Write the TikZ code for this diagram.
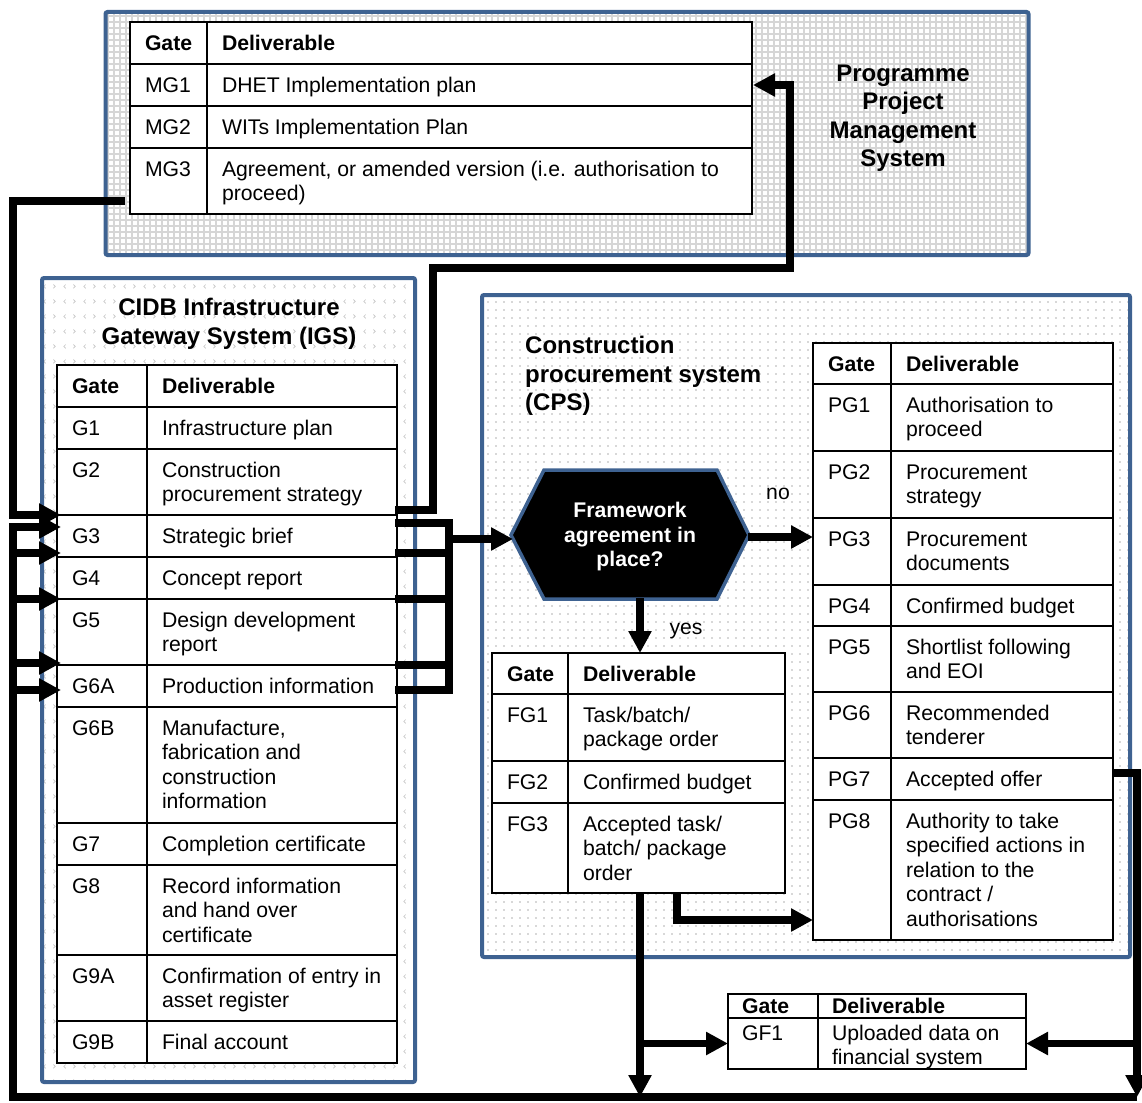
\documentclass[tikz,border=0pt]{standalone}
\usepackage{fontspec}
\setmainfont{Liberation Sans}
\usetikzlibrary{arrows.meta,patterns,calc}

\definecolor{sysblue}{RGB}{62,98,145}

% background textures of the three system panels
\pgfdeclarepatternformonly{pmgrid}{\pgfpoint{-1pt}{-1pt}}{\pgfpoint{7pt}{7pt}}{\pgfpoint{6pt}{6pt}}{%
  \pgfsetlinewidth{1.4pt}%
  \pgfpathmoveto{\pgfpoint{0pt}{-1pt}}\pgfpathlineto{\pgfpoint{0pt}{7pt}}%
  \pgfpathmoveto{\pgfpoint{-1pt}{0pt}}\pgfpathlineto{\pgfpoint{7pt}{0pt}}%
  \pgfusepath{stroke}}
\pgfdeclarepatternformonly{igschev}{\pgfpoint{0pt}{0pt}}{\pgfpoint{20pt}{15pt}}{\pgfpoint{20pt}{15pt}}{%
  \pgfsetlinewidth{0.7pt}%
  \pgfpathmoveto{\pgfpoint{6pt}{5pt}}\pgfpathlineto{\pgfpoint{4pt}{7pt}}\pgfpathlineto{\pgfpoint{6pt}{9pt}}%
  \pgfpathmoveto{\pgfpoint{14pt}{5pt}}\pgfpathlineto{\pgfpoint{16pt}{7pt}}\pgfpathlineto{\pgfpoint{14pt}{9pt}}%
  \pgfusepath{stroke}}
\pgfdeclarepatternformonly{cpsdots}{\pgfpoint{-1pt}{-1pt}}{\pgfpoint{1pt}{1pt}}{\pgfpoint{8pt}{8pt}}{%
  \pgfpathcircle{\pgfpointorigin}{0.8pt}\pgfusepath{fill}}

\newcommand\cellfont{\fontsize{21.2}{24.5}\selectfont}
\newlength\cellpad
\setlength\cellpad{15pt}
% table cell body: width, height, top padding, text
\newcommand\cbox[4]{\vbox to #2pt{\hsize=#1pt\relax\leftskip=\cellpad\rightskip=-30pt plus 1fil\relax
  \parindent=0pt\parskip=0pt\parfillskip=0pt plus 1fil\relax\hyphenpenalty=10000\relax
  \vskip#3pt\relax\noindent\strut#4\strut\par\vfil}}
% one table row: name, x, y, gate width, deliverable width, height, top padding, gate, deliverable
\newcommand\trow[9]{%
  \node[cell] (#1g) at (#2,#3) {\cbox{#4}{#6}{#7}{#8}};
  \node[cell] (#1d) at (#2+#4,#3) {\cbox{#5}{#6}{#7}{#9}};}

\begin{document}
\begin{tikzpicture}[x=1pt,y=-1pt,
  cell/.style={draw, line width=1.8pt, fill=white, inner sep=0pt, outer sep=0pt,
    anchor=north west, font=\cellfont},
  sysbox/.style={draw=sysblue, line width=4pt, rounded corners=2pt, anchor=north west,
    inner sep=0pt, outer sep=0pt},
  title/.style={font=\bfseries\fontsize{24}{28.5}\selectfont, inner sep=0pt},
  lbl/.style={font=\cellfont, inner sep=0pt},
  flow/.style={line width=7.5pt, -{Triangle[length=22pt,width=22pt]}},
  link/.style={line width=7.5pt}]
\useasboundingbox (0,0) rectangle (1142,1102);

% system panels
\node[sysbox, minimum width=923pt, minimum height=243pt, preaction={fill=white},
  pattern=pmgrid, pattern color=gray!32] (ppms) at (105.5,12) {};
\node[sysbox, minimum width=373pt, minimum height=804pt, preaction={fill=white},
  pattern=igschev, pattern color=gray!45] (igs) at (42,278) {};
\node[sysbox, minimum width=648pt, minimum height=662pt, preaction={fill=white},
  pattern=cpsdots, pattern color=gray!60] (cps) at (482,295) {};

\node[title, align=center] (ppmst) at (903,118) {Programme\\Project\\Management\\System};
\node[title, align=center] (igst) at (229,324) {CIDB Infrastructure\\Gateway System (IGS)};
\node[title, align=left, anchor=west] (cpst) at (525,376) {Construction\\procurement system\\(CPS)};

% programme project management gates
\trow{mh}{130}{22}{77}{545}{42}{11}{\textbf{Gate}}{\textbf{Deliverable}}
\trow{m1}{130}{64}{77}{545}{42}{11}{MG1}{DHET Implementation plan}
\trow{m2}{130}{106}{77}{545}{42}{11}{MG2}{WITs Implementation Plan}
\trow{m3}{130}{148}{77}{545}{66}{11}{MG3}{Agreement, or amended version (i.e. authorisation to\newline proceed)}

% infrastructure gateway gates
\trow{gh}{57}{365}{90}{250}{42}{11}{\textbf{Gate}}{\textbf{Deliverable}}
\trow{g1}{57}{407}{90}{250}{42}{11}{G1}{Infrastructure plan}
\trow{g2}{57}{449}{90}{250}{66}{11}{G2}{Construction\newline procurement strategy}
\trow{g3}{57}{515}{90}{250}{42}{11}{G3}{Strategic brief}
\trow{g4}{57}{557}{90}{250}{42}{11}{G4}{Concept report}
\trow{g5}{57}{599}{90}{250}{66}{11}{G5}{Design development\newline report}
\trow{g6a}{57}{665}{90}{250}{42}{11}{G6A}{Production information}
\trow{g6b}{57}{707}{90}{250}{116}{11}{G6B}{Manufacture,\newline fabrication and\newline construction\newline information}
\trow{g7}{57}{823}{90}{250}{42}{11}{G7}{Completion certificate}
\trow{g8}{57}{865}{90}{250}{90}{11}{G8}{Record information\newline and hand over\newline certificate}
\trow{g9a}{57}{955}{90}{250}{66}{11}{G9A}{Confirmation of entry in\newline asset register}
\trow{g9b}{57}{1021}{90}{250}{42}{11}{G9B}{Final account}

% procurement gates
\trow{ph}{813}{343}{78}{222}{41}{11}{\textbf{Gate}}{\textbf{Deliverable}}
\trow{p1}{813}{384}{78}{222}{67}{11}{PG1}{Authorisation to\newline proceed}
\trow{p2}{813}{451}{78}{222}{67}{11}{PG2}{Procurement\newline strategy}
\trow{p3}{813}{518}{78}{222}{67}{11}{PG3}{Procurement\newline documents}
\trow{p4}{813}{585}{78}{222}{41}{11}{PG4}{Confirmed budget}
\trow{p5}{813}{626}{78}{222}{66}{11}{PG5}{Shortlist following\newline and EOI}
\trow{p6}{813}{692}{78}{222}{66}{11}{PG6}{Recommended\newline tenderer}
\trow{p7}{813}{758}{78}{222}{42}{11}{PG7}{Accepted offer}
\trow{p8}{813}{800}{78}{222}{140}{11}{PG8}{Authority to take\newline specified actions in\newline relation to the\newline contract /\newline authorisations}

% framework agreement gates
\trow{fh}{492}{653}{76}{217}{41}{11}{\textbf{Gate}}{\textbf{Deliverable}}
\trow{f1}{492}{694}{76}{217}{67}{11}{FG1}{Task/batch/\newline package order}
\trow{f2}{492}{761}{76}{217}{42}{11}{FG2}{Confirmed budget}
\trow{f3}{492}{803}{76}{217}{90}{11}{FG3}{Accepted task/\newline batch/ package\newline order}

% financial system gate
\setlength\cellpad{14pt}
\trow{xh}{728}{994}{90}{208}{24}{2}{\textbf{Gate}}{\textbf{Deliverable}}
\trow{x1}{728}{1018}{90}{208}{51}{5}{GF1}{Uploaded data on\newline financial system}

% decision
\draw[fill=black, draw=sysblue, line width=3.5pt, line join=miter]
  (511,535) -- (544,470) -- (717,470) -- (749,535) -- (717,599) -- (544,599) -- cycle;
\node[font=\bfseries\fontsize{21.2}{24.5}\selectfont, text=white, align=center, inner sep=0pt]
  (fw) at (630,537) {Framework\\agreement in\\place?};
\coordinate (hexL) at (513,539);
\coordinate (hexR) at (748,537);
\coordinate (hexB) at (640,598);
\node[lbl] (no) at (778,494) {no};
\node[lbl] (yes) at (686,631) {yes};

% return bus along the left and bottom edges
\coordinate (busL) at (13,1097);
\coordinate (busR) at (1137,1097);
\coordinate (brk) at (449,0);

% MG3 into the gateway system
\draw[flow] ([xshift=-5pt,yshift=13pt]m3g.south west) -| ([xshift=-44pt]g3g.north west)
  -- ([xshift=4pt]g3g.north west);

% G2 back to MG1
\coordinate (up1) at (433,268);
\coordinate (up2) at (790,268);
\draw[flow] ([xshift=-2pt,yshift=5pt]g2d.south east) -| (up1) -- (up2) |- ([xshift=1pt]m1d.east);

% feedback bus into G3 to G6A
\draw[flow] (busR) -- (busL) |- ([xshift=4pt,yshift=-12pt]g3g.north west);
\coordinate (in4) at ([xshift=4pt,yshift=4pt]g4g.north west);
\coordinate (in5) at ([xshift=4pt]g5g.north west);
\coordinate (in6) at ([xshift=4pt,yshift=2pt]g6ag.north west);
\coordinate (in7) at ([xshift=4pt,yshift=-25pt]g6ag.north west);
\draw[flow] (busL |- in4) -- (in4);
\draw[flow] (busL |- in5) -- (in5);
\draw[flow] (busL |- in6) -- (in6);
\draw[flow] (busL |- in7) -- (in7);

% G3 to G6A into the decision
\coordinate (o3) at ([xshift=-2pt,yshift=-8pt]g3d.north east);
\coordinate (o4) at ([xshift=-2pt,yshift=4pt]g4d.north east);
\coordinate (o5) at ([xshift=-2pt]g5d.north east);
\coordinate (o6) at ([xshift=-2pt]g6ad.north east);
\coordinate (o7) at ([xshift=-2pt,yshift=-25pt]g6ad.north east);
\draw[link] (o3) -- (o3 -| brk) -- (o7 -| brk) -- (o7);
\draw[link] (o4) -- (o4 -| brk);
\draw[link] (o5) -- (o5 -| brk);
\draw[link] (o6) -- (o6 -| brk);
\draw[flow] (brk |- hexL) -- (hexL);

% decision outcomes
\draw[flow] (hexR) -- (hexR -| p3g.west);
\draw[flow] (hexB) -- (hexB |- fhd.north);

% FG3 onwards
\draw[flow] ([xshift=109pt]f3d.south west) |- ([yshift=-50pt]p8g.west);
\coordinate (fdown) at ([xshift=72pt]f3d.south west);
\draw[flow] (fdown) -- (fdown |- busL);
\draw[flow] (fdown |- x1g.west) -- (x1g.west);

% PG7 onwards
\draw[flow] ([xshift=-1pt,yshift=6pt]p7d.east) -| (busR);
\draw[flow] (busR |- x1d.east) -- (x1d.east);
\end{tikzpicture}
\end{document}
